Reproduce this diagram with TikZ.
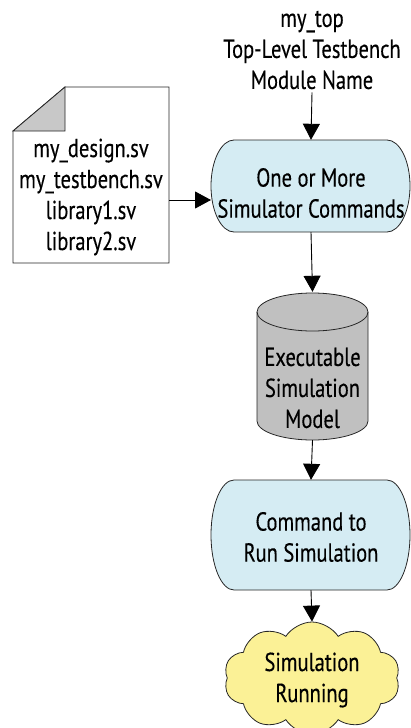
\documentclass[tikz,border=0pt]{standalone}
\usepackage{fontspec}
\setmainfont{PT Sans}[FakeStretch=0.79,FakeBold=0.3]
\usetikzlibrary{arrows.meta,shapes.symbols}
\definecolor{boxblue}{RGB}{213,236,243}
\definecolor{cylgray}{RGB}{192,192,192}
\definecolor{foldgray}{RGB}{200,200,200}
\definecolor{cloudyellow}{RGB}{251,241,150}
\tikzset{
  lbl/.style={align=center,font=\fontsize{26}{31}\selectfont,inner sep=0pt},
  conn/.style={line width=0.9pt,-{Triangle[width=17pt,length=16pt]}},
  outline/.style={line width=0.8pt,draw=black!85}
}
\begin{document}
\begin{tikzpicture}[x=1pt,y=-1pt]
\useasboundingbox (0,0) rectangle (411,728);
% document
\draw[outline,fill=white] (65,87) -- (169,87) -- (169,263) -- (13,263) -- (13,131) -- cycle;
\draw[outline,fill=foldgray] (13,131) -- (65,87) -- (65,131) -- cycle;
\node[lbl] (files) at (91,197) {my\_design.sv\\my\_testbench.sv\\library1.sv\\library2.sv};
% top label
\node[lbl] (top) at (312,50) {my\_top\\Top-Level Testbench\\Module Name};
% box 1
\draw[outline,fill=boxblue] (234,140) -- (387,140) arc[start angle=270,end angle=450,x radius=23,y radius=46] -- (234,232) arc[start angle=90,end angle=270,x radius=23,y radius=46] -- cycle;
\node[minimum width=200pt,minimum height=92pt,inner sep=0pt] (box1) at (311,186) {};
\node[lbl] (box1t) at (311,193) {One or More\\Simulator Commands};
% cylinder
\draw[outline,fill=cylgray] (257,312) -- (257,421) arc[start angle=180,end angle=0,x radius=55.5,y radius=19] -- (368,312) arc[start angle=0,end angle=-180,x radius=55.5,y radius=19] -- cycle;
\draw[outline] (257,312) arc[start angle=180,end angle=0,x radius=55.5,y radius=19];
\node[minimum width=111pt,minimum height=148pt,inner sep=0pt] (cyl) at (312.5,366) {};
\node[lbl] (cylt) at (312.5,388) {Executable\\Simulation\\Model};
% box 2
\draw[outline,fill=boxblue] (234,480) -- (387,480) arc[start angle=270,end angle=450,x radius=23,y radius=55] -- (234,590) arc[start angle=90,end angle=270,x radius=23,y radius=55] -- cycle;
\node[minimum width=200pt,minimum height=110pt,inner sep=0pt] (box2) at (311,535) {};
\node[lbl] (box2t) at (311,537) {Command to\\Run Simulation};
% cloud
\node[cloud,cloud puffs=10,cloud puff arc=115,outline,fill=cloudyellow,minimum width=176pt,minimum height=112pt,inner sep=0pt,aspect=1.7] (cloud) at (312,678) {};
\node[lbl] (cloudt) at (312,680) {Simulation\\Running};
% connectors
\coordinate (fa) at (169,200);
\coordinate (fb) at (211,200);
\draw[conn] (fa) -- (fb);
\draw[conn] (top.south) ++(0,3) -- (box1.north);
\draw[conn] (box1.south) -- (cyl.north);
\draw[conn] (cyl.south) -- (box2.north);
\draw[conn] (box2.south) -- (cloud.north);
\end{tikzpicture}
\end{document}
